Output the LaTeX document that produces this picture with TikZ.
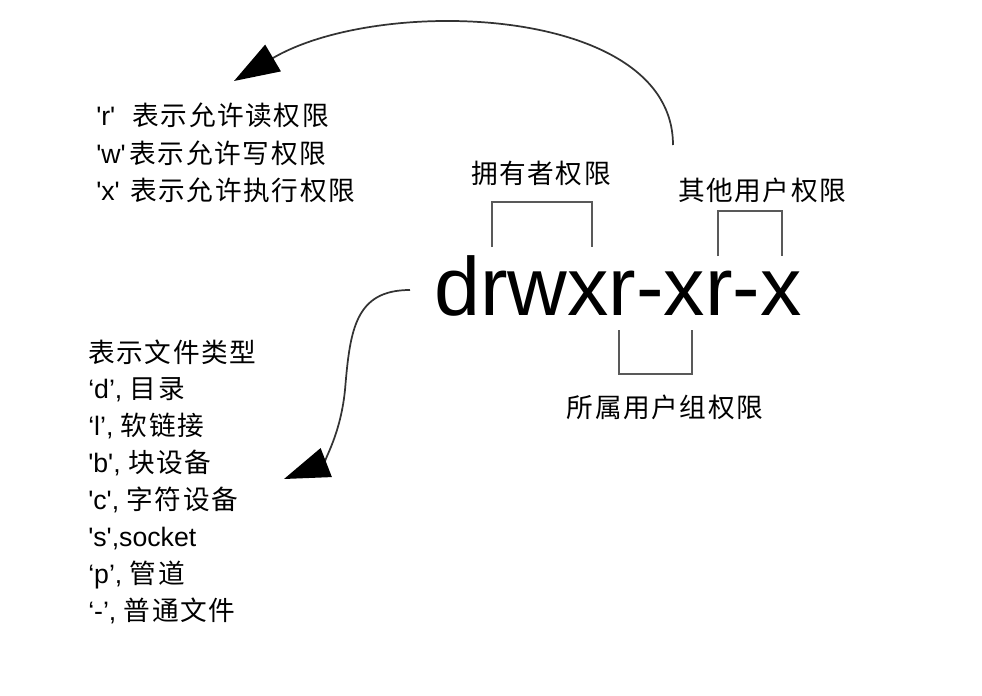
\documentclass[tikz,border=0pt]{standalone}
\usepackage{fontspec}
\setmainfont{Liberation Sans}[Ligatures=TeXOff]
\newfontfamily\cjk[LetterSpace=6]{Noto Sans CJK SC}
\newcommand{\zh}[1]{{\cjk #1}}
\usetikzlibrary{arrows.meta, positioning}

\begin{document}
\begin{tikzpicture}[
        x=0.75pt, y=-0.75pt,
        % Style for the text lines of the two lists
        note/.style={anchor=base west, inner sep=0pt, font=\fontsize{20pt}{24pt}\selectfont},
        % Style for the labels of the brackets
        tag/.style={inner sep=0pt, font=\fontsize{20pt}{24pt}\selectfont},
        bracket/.style={draw=black!65, line width=1.5pt},
        curve/.style={draw=black!80, line width=1.3pt, -{Triangle[length=34pt, width=23pt, black]}}
    ]

    \useasboundingbox (0,0) rectangle (982,696);

    % --- Permission string ---
    \node[anchor=base west, inner sep=0pt, font=\fontsize{62pt}{70pt}\selectfont] (perm) at (434,315) {drwxr-xr-x};

    % --- Brackets ---
    \draw[bracket] (492,247) -- (492,202) -- (592,202) -- (592,247);
    \draw[bracket] (718,256) -- (718,211) -- (782,211) -- (782,256);
    \draw[bracket] (619,330) -- (619,374) -- (692,374) -- (692,330);

    % --- Bracket labels ---
    \node[tag] (owner) at (541,173) {\zh{拥有者权限}};
    \node[tag] (other) at (762,190) {\zh{其他用户权限}};
    \node[tag] (group) at (665,407) {\zh{所属用户组权限}};

    % --- Permission letters ---
    \foreach \txt [count=\i] in {{'r'\hspace{13pt}\zh{表示允许读权限}}, {'w'\hspace{3pt}\zh{表示允许写权限}}, {'x'\hspace{8pt}\zh{表示允许执行权限}}}
        \node[note] (rwx\i) at (96, 88+37.5*\i) {\txt};

    % --- File types ---
    \foreach \txt [count=\i from 0] in {{\zh{表示文件类型}}, {‘d’, \zh{目录}}, {‘l’, \zh{软链接}}, {'b', \zh{块设备}},
            {'c', \zh{字符设备}}, {'s',socket}, {‘p’, \zh{管道}}, {‘-’, \zh{普通文件}}}
        \node[note] (type\i) at (88, 362+36.9*\i) {\txt};

    % --- Arrows ---
    \coordinate (topstart) at (673,145);
    \coordinate (toptip) at (234,81);
    \draw[curve] (topstart) .. controls (673,5) and (380,-5) .. (toptip);

    \coordinate (sidestart) at (410,290);
    \coordinate (sidemid) at (345,390);
    \coordinate (sidetip) at (284,479);
    \draw[curve] (sidestart) .. controls (355,290) and (350,330) .. (sidemid)
        .. controls (340,440) and (320,465) .. (sidetip);

\end{tikzpicture}
\end{document}
